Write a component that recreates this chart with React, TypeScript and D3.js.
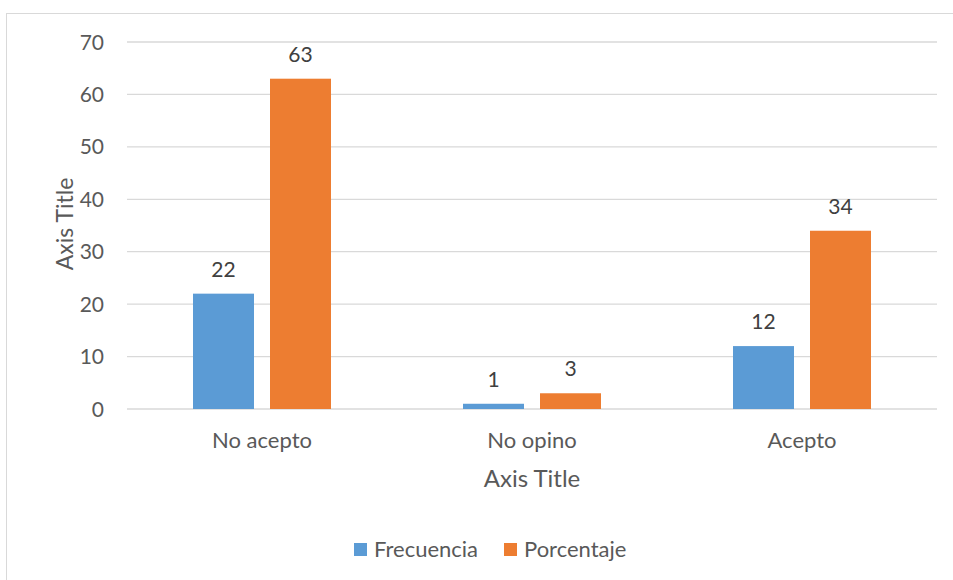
import React from "react";
import * as d3 from "d3";

const categories = ["No acepto", "No opino", "Acepto"];
const seriesNames = ["Frecuencia", "Porcentaje"];
const frecuencia = [22, 1, 12];
const porcentaje = [63, 3, 34];
const yTicks = [0, 10, 20, 30, 40, 50, 60, 70];
const colors = ["#5b9bd5", "#ed7d31"];

const W = 953;
const H = 580;
const plot = { left: 127, right: 937, top: 42, bottom: 409 };
const font = "Lato, 'Open Sans', sans-serif";

export default function App() {
  const x = d3
    .scaleBand<string>()
    .domain(categories)
    .range([plot.left, plot.right]);
  const inner = d3
    .scaleBand<string>()
    .domain(seriesNames)
    .range([0, 138])
    .paddingInner(0.208);
  const y = d3.scaleLinear().domain([0, 70]).range([plot.bottom, plot.top]);
  const series = [frecuencia, porcentaje];

  return (
    <svg
      width={W}
      height={H}
      style={{ position: "absolute", left: 0, top: 0, background: "#fff" }}
    >
      <rect x={6.5} y={13.5} width={W + 10} height={H + 10} fill="#fff" stroke="#d9d9d9" />
      {yTicks.map((t) => (
        <g key={t}>
          <line
            x1={plot.left}
            x2={plot.right}
            y1={y(t)}
            y2={y(t)}
            stroke="#d9d9d9"
            strokeWidth={1.3}
          />
          <text
            x={104}
            y={y(t) + 7.5}
            textAnchor="end"
            fontFamily={font}
            fontSize={21}
            fill="#595959"
          >
            {t}
          </text>
        </g>
      ))}
      {categories.map((c, i) => {
        const start = (x(c) as number) + x.bandwidth() / 2 - 69;
        return (
          <g key={c}>
            {series.map((s, j) => {
              const bx = start + (inner(seriesNames[j]) as number);
              const bw = inner.bandwidth();
              return (
                <g key={j}>
                  <rect
                    x={bx}
                    y={y(s[i])}
                    width={bw}
                    height={y(0) - y(s[i])}
                    fill={colors[j]}
                  />
                  <text
                    x={bx + bw / 2}
                    y={y(s[i]) - 17}
                    textAnchor="middle"
                    fontFamily={font}
                    fontSize={21}
                    fill="#404040"
                  >
                    {s[i]}
                  </text>
                </g>
              );
            })}
            <text
              x={(x(c) as number) + x.bandwidth() / 2}
              y={448}
              textAnchor="middle"
              fontFamily={font}
              fontSize={22}
              fill="#595959"
            >
              {c}
            </text>
          </g>
        );
      })}
      <text
        x={(plot.left + plot.right) / 2}
        y={487}
        textAnchor="middle"
        fontFamily={font}
        fontSize={24}
        fill="#595959"
      >
        Axis Title
      </text>
      <text
        transform={`translate(73, 224) rotate(-90)`}
        textAnchor="middle"
        fontFamily={font}
        fontSize={23}
        fill="#595959"
      >
        Axis Title
      </text>
      {seriesNames.map((n, j) => {
        const lx = [354, 504][j];
        return (
          <g key={n}>
            <rect x={lx} y={543} width={13} height={13} fill={colors[j]} />
            <text
              x={lx + 20}
              y={557}
              fontFamily={font}
              fontSize={22}
              fill="#595959"
            >
              {n}
            </text>
          </g>
        );
      })}
    </svg>
  );
}
